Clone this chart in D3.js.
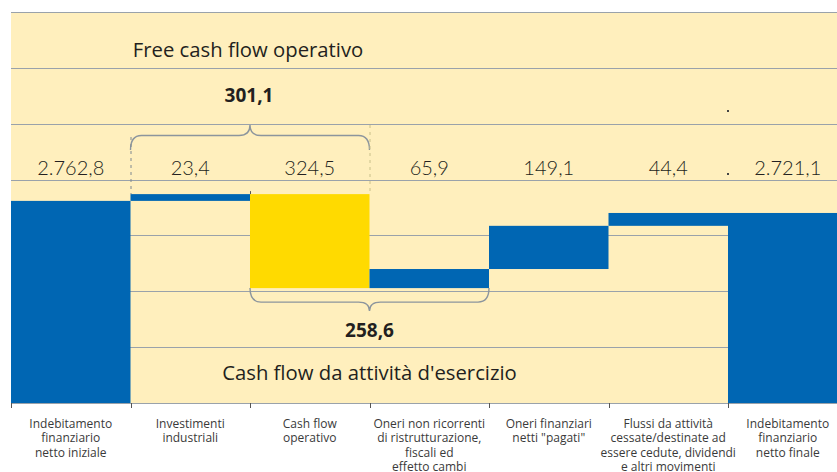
<!DOCTYPE html>
<html>
<head>
<meta charset="utf-8">
<script src="https://cdn.jsdelivr.net/npm/d3@7"></script>
<style>
  body { margin: 0; background: #fff; }
  svg { display: block; }
  .big { font-family: "Open Sans", Lato, sans-serif; fill: #231f20; }
  .num { font-family: Lato, "Open Sans", sans-serif; fill: #231f20; }
  .cat { font-family: "Liberation Sans Narrow", "Open Sans", sans-serif; fill: #3a3a3a; font-size: 12px; }
</style>
</head>
<body>
<div id="chart"></div>
<script>
(function(){

const width = 837;
const height = 472;

// data
const categories = [
  "Indebitamento\nfinanziario\nnetto iniziale",
  "Investimenti\nindustriali",
  "Cash flow\noperativo",
  "Oneri non ricorrenti\ndi ristrutturazione,\nfiscali ed\neffetto cambi",
  "Oneri finanziari\nnetti \"pagati\"",
  "Flussi da attività\ncessate/destinate ad\nessere cedute, dividendi\ne altri movimenti",
  "Indebitamento\nfinanziario\nnetto finale"
];
const values = [2762.8, 23.4, -324.5, 65.9, 149.1, 44.4, 2721.1];
const kinds = ["total", "delta", "delta", "delta", "delta", "delta", "total"];
const valueLabels = ["2.762,8", "23,4", "324,5", "65,9", "149,1", "44,4", "2.721,1"];
const highlight = "Cash flow\noperativo";

// subtotals shown with braces
const freeCashFlow = { label: "301,1", title: "Free cash flow operativo", from: 1, to: 2 };
const cashFlowEsercizio = { label: "258,6", title: "Cash flow da attività d'esercizio", from: 2, to: 3 };

const blue = "#0066b3";
const yellow = "#ffda00";
const bg = "#ffefbd";
const grid = "#9aa2aa";

const svg = d3.select("#chart")
  .append("svg")
  .attr("width", width)
  .attr("height", height);

// waterfall steps
let running = 0;
const bars = values.map((v, i) => {
  let y0, y1;
  if (kinds[i] === "total") {
    y0 = null; y1 = v; running = v;
  } else {
    y0 = running; y1 = running + v; running = y1;
  }
  return { cat: categories[i], y0: y0, y1: y1, label: valueLabels[i] };
});

const plotTop = 12, plotBottom = 403, plotLeft = 11;
const band = 119.5;

const x = d3.scaleBand()
  .domain(categories)
  .range([plotLeft, plotLeft + band * categories.length])
  .padding(0);

const y = d3.scaleLinear()
  .domain([2065, 3415])
  .range([plotBottom, plotTop]);

// background
svg.append("rect")
  .attr("x", plotLeft)
  .attr("y", plotTop)
  .attr("width", width - plotLeft)
  .attr("height", plotBottom - plotTop)
  .attr("fill", bg);

// horizontal grid lines
const [d0, d1] = y.domain();
const gridVals = d3.range(8).map(i => d0 + i * (d1 - d0) / 7);
svg.append("g")
  .selectAll("line")
  .data(gridVals)
  .enter()
  .append("line")
  .attr("x1", plotLeft)
  .attr("x2", width)
  .attr("y1", d => Math.round(y(d)) + 0.5)
  .attr("y2", d => Math.round(y(d)) + 0.5)
  .attr("stroke", grid)
  .attr("stroke-width", 1);

// bars
svg.append("g")
  .selectAll("rect")
  .data(bars)
  .enter()
  .append("rect")
  .attr("x", d => x(d.cat))
  .attr("width", x.bandwidth())
  .attr("y", d => d.y0 === null ? y(d.y1) : y(Math.max(d.y0, d.y1)))
  .attr("height", d => d.y0 === null ? plotBottom - y(d.y1) : Math.abs(y(d.y0) - y(d.y1)))
  .attr("fill", d => d.cat === highlight ? yellow : blue);

// x axis: line + ticks on column boundaries
svg.append("line")
  .attr("x1", plotLeft).attr("x2", width)
  .attr("y1", plotBottom + 0.5).attr("y2", plotBottom + 0.5)
  .attr("stroke", grid);

svg.append("g")
  .selectAll("line")
  .data(categories)
  .enter()
  .append("line")
  .attr("x1", d => Math.round(x(d)) + 0.5)
  .attr("x2", d => Math.round(x(d)) + 0.5)
  .attr("y1", plotBottom)
  .attr("y2", plotBottom + 5)
  .attr("stroke", "#555");

// category labels
const cat = svg.append("g")
  .selectAll("text")
  .data(categories)
  .enter()
  .append("text")
  .attr("class", "cat")
  .attr("text-anchor", "middle")
  .attr("x", d => x(d) + x.bandwidth() / 2)
  .attr("y", 428);

cat.selectAll("tspan")
  .data(d => d.split("\n"))
  .enter()
  .append("tspan")
  .attr("x", function(){ return d3.select(this.parentNode).attr("x"); })
  .attr("dy", (d, i) => i === 0 ? 0 : 14.3)
  .text(d => d);

// value labels row
svg.append("g")
  .selectAll("text")
  .data(bars)
  .enter()
  .append("text")
  .attr("class", "num")
  .attr("text-anchor", "middle")
  .attr("x", d => x(d.cat) + x.bandwidth() / 2)
  .attr("y", 175)
  .style("font-size", "20px")
  .style("font-weight", 300)
  .text(d => d.label);

// braces
function brace(x0, x1, yEnd, yLine, yTip) {
  const xm = (x0 + x1) / 2;
  const r = 11;
  return `M${x0},${yEnd} Q${x0},${yLine} ${x0 + r},${yLine} L${xm - r},${yLine} ` +
    `Q${xm},${yLine} ${xm},${yTip} Q${xm},${yLine} ${xm + r},${yLine} ` +
    `L${x1 - r},${yLine} Q${x1},${yLine} ${x1},${yEnd}`;
}

const fx0 = x(categories[freeCashFlow.from]);
const fx1 = x(categories[freeCashFlow.to]) + x.bandwidth();
const fTop = y(bars[freeCashFlow.from].y1);

svg.append("path")
  .attr("d", brace(fx0, fx1, 150, 135.5, 125))
  .attr("fill", "none")
  .attr("stroke", "#8c959d")
  .attr("stroke-width", 1.4);

// dashed guides from brace to bars
svg.append("line")
  .attr("x1", fx0 + 0.5).attr("x2", fx0 + 0.5)
  .attr("y1", 137).attr("y2", fTop)
  .attr("stroke", "#7f8890").attr("stroke-dasharray", "3,4");
svg.append("line")
  .attr("x1", fx1 + 0.5).attr("x2", fx1 + 0.5)
  .attr("y1", 125).attr("y2", fTop)
  .attr("stroke", "#c9c08a").attr("stroke-dasharray", "3,4");

// little tick between the two bracketed bars
const midX = x(categories[freeCashFlow.to]);
svg.append("line")
  .attr("x1", midX + 0.5).attr("x2", midX + 0.5)
  .attr("y1", fTop - 3).attr("y2", fTop)
  .attr("stroke", "#555");

svg.append("text")
  .attr("class", "big")
  .attr("text-anchor", "middle")
  .attr("x", (fx0 + fx1) / 2 - 2)
  .attr("y", 57)
  .style("font-size", "20.3px")
  .text(freeCashFlow.title);

svg.append("text")
  .attr("class", "big")
  .attr("text-anchor", "middle")
  .attr("x", (fx0 + fx1) / 2 - 1)
  .attr("y", 102)
  .style("font-size", "19px")
  .style("font-weight", "bold")
  .text(freeCashFlow.label);

const cx0 = x(categories[cashFlowEsercizio.from]);
const cx1 = x(categories[cashFlowEsercizio.to]) + x.bandwidth();
const cBottom = y(bars[cashFlowEsercizio.from].y1);

svg.append("path")
  .attr("d", brace(cx0, cx1, cBottom, cBottom + 14, cBottom + 23))
  .attr("fill", "none")
  .attr("stroke", "#8c959d")
  .attr("stroke-width", 1.4);

svg.append("text")
  .attr("class", "big")
  .attr("text-anchor", "middle")
  .attr("x", (cx0 + cx1) / 2)
  .attr("y", 337)
  .style("font-size", "19px")
  .style("font-weight", "bold")
  .text(cashFlowEsercizio.label);

svg.append("text")
  .attr("class", "big")
  .attr("text-anchor", "middle")
  .attr("x", (cx0 + cx1) / 2)
  .attr("y", 380)
  .style("font-size", "20.3px")
  .text(cashFlowEsercizio.title);

// stray dots in the original
svg.append("g")
  .selectAll("rect")
  .data([112, 175])
  .enter()
  .append("rect")
  .attr("x", x(categories[6]) - 1)
  .attr("y", d => d - 2)
  .attr("width", 2)
  .attr("height", 2)
  .attr("fill", "#444");

})();
</script>
</body>
</html>
